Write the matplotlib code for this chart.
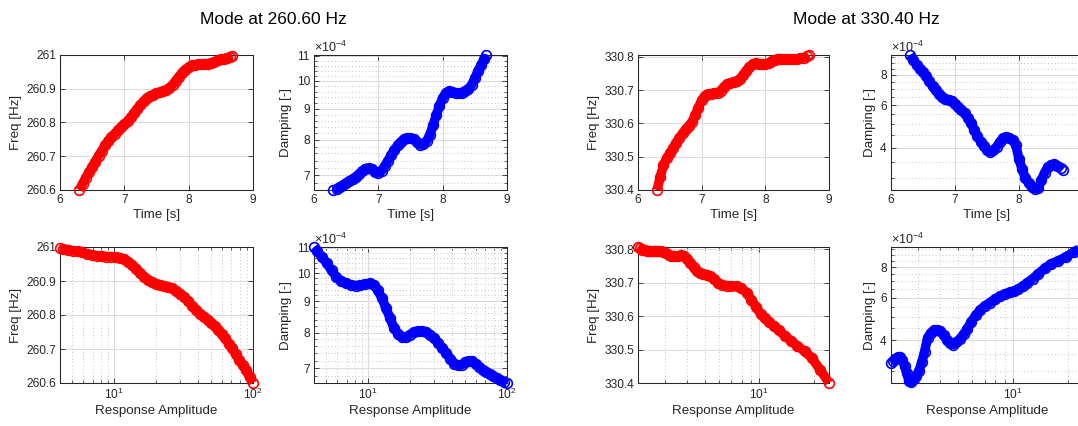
import numpy as np
import matplotlib
matplotlib.use('Agg')
import matplotlib.pyplot as plt
from matplotlib.ticker import (FixedLocator, FuncFormatter, NullFormatter,
                               LogLocator, LogFormatterMathtext)

plt.rcParams['font.family'] = ['Liberation Sans', 'DejaVu Sans']
plt.rcParams['mathtext.fontset'] = 'custom'
plt.rcParams['mathtext.rm'] = 'Liberation Sans'
plt.rcParams['mathtext.default'] = 'regular'

# ------------------------------------------------------------------ data
DAMP_SCALE = 1e-4

titles = ['Mode at 260.60 Hz', 'Mode at 330.40 Hz']

# mode 1 (260.60 Hz)
t1 = [6.30, 6.35, 6.40, 6.45, 6.50, 6.55, 6.60, 6.65, 6.70, 6.75, 6.80, 6.85,
      6.90, 6.95, 7.00, 7.05, 7.10, 7.15, 7.20, 7.25, 7.30, 7.35, 7.40, 7.45,
      7.50, 7.55, 7.60, 7.65, 7.70, 7.75, 7.80, 7.85, 7.90, 7.95, 8.00, 8.05,
      8.10, 8.15, 8.20, 8.25, 8.30, 8.35, 8.40, 8.45, 8.50, 8.55, 8.60, 8.65,
      8.68]
f1 = [260.600, 260.618, 260.637, 260.652, 260.668, 260.684, 260.702, 260.716,
      260.732, 260.745, 260.757, 260.767, 260.777, 260.786, 260.795, 260.804,
      260.815, 260.827, 260.840, 260.852, 260.863, 260.872, 260.878, 260.882,
      260.886, 260.889, 260.892, 260.896, 260.902, 260.912, 260.924, 260.936,
      260.948, 260.957, 260.964, 260.969, 260.971, 260.972, 260.972, 260.973,
      260.974, 260.977, 260.980, 260.984, 260.987, 260.989, 260.992, 260.994,
      260.996]
d1 = [6.62, 6.65, 6.70, 6.74, 6.79, 6.85, 6.90, 6.96, 7.02, 7.10, 7.18, 7.20,
      7.16, 7.09, 7.07, 7.12, 7.25, 7.40, 7.55, 7.70, 7.84, 7.94, 8.02, 8.05,
      8.05, 8.02, 7.94, 7.86, 7.87, 7.97, 8.15, 8.45, 8.78, 9.10, 9.38, 9.56,
      9.62, 9.60, 9.56, 9.54, 9.57, 9.63, 9.70, 9.85, 10.10, 10.38, 10.62,
      10.88, 11.02]
a1 = [100.0, 94.4, 89.1, 84.1, 79.4, 75.0, 70.8, 66.8, 63.1, 59.6, 56.2, 53.1,
      50.1, 47.3, 44.7, 41.8, 39.1, 36.6, 34.2, 32.0, 29.9, 28.0, 26.2, 24.5,
      22.9, 21.4, 20.0, 18.7, 17.5, 16.4, 15.3, 14.4, 13.4, 12.6, 11.7, 11.0,
      10.3, 9.5, 8.8, 8.13, 7.52, 6.95, 6.41, 5.92, 5.46, 5.04, 4.65, 4.29,
      4.08]

# mode 2 (330.40 Hz)
t2 = [6.30, 6.35, 6.40, 6.45, 6.50, 6.55, 6.60, 6.65, 6.70, 6.75, 6.80, 6.85,
      6.90, 6.95, 7.00, 7.05, 7.10, 7.15, 7.20, 7.25, 7.30, 7.35, 7.40, 7.45,
      7.50, 7.55, 7.60, 7.65, 7.70, 7.75, 7.80, 7.85, 7.90, 7.95, 8.00, 8.05,
      8.10, 8.15, 8.20, 8.25, 8.30, 8.35, 8.40, 8.45, 8.50, 8.55, 8.60, 8.65,
      8.68]
f2 = [330.400, 330.440, 330.475, 330.495, 330.511, 330.526, 330.541, 330.557,
      330.570, 330.582, 330.593, 330.605, 330.626, 330.648, 330.670, 330.683,
      330.689, 330.690, 330.691, 330.693, 330.699, 330.710, 330.719, 330.722,
      330.725, 330.728, 330.733, 330.745, 330.758, 330.770, 330.779, 330.781,
      330.779, 330.778, 330.778, 330.781, 330.788, 330.792, 330.795, 330.795,
      330.794, 330.793, 330.793, 330.794, 330.794, 330.796, 330.798, 330.802,
      330.806]
d2 = [9.70, 9.25, 8.80, 8.50, 8.25, 7.90, 7.52, 7.18, 6.90, 6.68, 6.48, 6.37,
      6.30, 6.22, 6.08, 5.92, 5.72, 5.55, 5.32, 5.06, 4.75, 4.46, 4.24, 4.06,
      3.92, 3.84, 3.90, 4.03, 4.22, 4.38, 4.42, 4.40, 4.30, 4.10, 3.58, 3.25,
      3.00, 2.86, 2.76, 2.70, 2.72, 2.93, 3.15, 3.32, 3.40, 3.41, 3.36, 3.28,
      3.23]
a2 = [24.3, 21.7, 19.5, 17.8, 16.2, 15.0, 13.8, 12.9, 12.0, 11.35, 10.7, 10.2,
      9.66, 9.06, 8.51, 7.98, 7.50, 7.03, 6.61, 6.24, 5.89, 5.62, 5.37, 5.13,
      4.90, 4.70, 4.52, 4.34, 4.17, 4.00, 3.85, 3.69, 3.55, 3.40, 3.27, 3.16,
      3.05, 2.95, 2.85, 2.77, 2.69, 2.61, 2.54, 2.47, 2.40, 2.33, 2.26, 2.19,
      2.14]

freq_lims = [(260.6, 261.0), (330.4, 330.806)]
freq_ticks = [[260.6, 260.7, 260.8, 260.9, 261.0],
              [330.4, 330.5, 330.6, 330.7, 330.8]]
damp_lims = [(6.62, 11.03), (2.67, 9.68)]
damp_major = [[7, 8, 9, 10, 11], [4, 6, 8]]
damp_minor = [[6.8, 7.2, 7.4, 7.6, 7.8, 8.2, 8.4, 8.6, 8.8, 9.2, 9.4, 9.6,
               9.8, 10.2, 10.4, 10.6, 10.8],
              [3.0, 3.5, 4.5, 5.0, 5.5, 6.5, 7.0, 7.5, 8.5, 9.0, 9.5]]
time_ticks = [6, 7, 8, 9]

# ------------------------------------------------------------------ style
W, H = 1078, 426
AX_COL = '#262626'
GRID_MAJ = '#dcdcdc'
GRID_MIN = '#c4c4c4'
TICK_FS = 8.6
LABEL_FS = 9.6

# pixel boxes (x0, x1, y_top, y_bottom) for each group, 2x2
boxes = [
    [(60, 253, 55, 190), (314, 507, 55, 190),
     (60, 253, 247, 383), (314, 507, 247, 383)],
    [(638, 829, 55, 190), (891, 1083, 55, 190),
     (638, 829, 247, 383), (891, 1083, 247, 383)],
]
title_x = [273, 866]


def add_axes(fig, box):
    x0, x1, y0, y1 = box
    return fig.add_axes([x0 / W, 1 - y1 / H, (x1 - x0) / W, (y1 - y0) / H])


def style(ax):
    ax.tick_params(which='both', direction='in', top=True, right=True,
                   colors=AX_COL, labelsize=TICK_FS, pad=3)
    ax.tick_params(which='major', length=3.5, width=0.6)
    ax.tick_params(which='minor', length=2, width=0.5)
    for s in ax.spines.values():
        s.set_color(AX_COL)
        s.set_linewidth(0.75)
    ax.grid(True, which='major', color=GRID_MAJ, lw=0.8)
    ax.set_axisbelow(True)


def draw(ax, x, y, color):
    ax.plot(x, y, '-', color=color, lw=6.8, solid_capstyle='butt',
            solid_joinstyle='round', clip_on=False, zorder=3)
    ax.plot(x, y, 'o', ms=7.0, mfc='none', mec=color, mew=1.2,
            clip_on=False, zorder=3)


def freq_axis(ax, m):
    ax.set_ylim(*freq_lims[m])
    ax.yaxis.set_major_locator(FixedLocator(freq_ticks[m]))
    ax.yaxis.set_major_formatter(FuncFormatter(lambda v, p: f'{v:g}'))
    ax.set_ylabel('Freq [Hz]', fontsize=LABEL_FS, color=AX_COL, labelpad=3)


def damp_axis(ax, m):
    ax.set_yscale('log')
    lo, hi = damp_lims[m]
    ax.set_ylim(lo * DAMP_SCALE, hi * DAMP_SCALE)
    ax.yaxis.set_major_locator(FixedLocator([v * DAMP_SCALE for v in damp_major[m]]))
    ax.yaxis.set_minor_locator(FixedLocator([v * DAMP_SCALE for v in damp_minor[m]]))
    ax.yaxis.set_major_formatter(FuncFormatter(lambda v, p: f'{v / DAMP_SCALE:g}'))
    ax.yaxis.set_minor_formatter(NullFormatter())
    ax.grid(True, which='minor', axis='y', color=GRID_MIN, lw=0.7, ls=(0, (1, 2.5)))
    ax.text(0.0, 1.0, '\u00d710$^{-4}$', transform=ax.transAxes, ha='left',
            va='bottom', fontsize=9, color=AX_COL)
    ax.set_ylabel('Damping [-]', fontsize=LABEL_FS, color=AX_COL, labelpad=3)


def time_axis(ax, clipped=False):
    ax.set_xlim(6, 9)
    ax.xaxis.set_major_locator(FixedLocator(time_ticks))
    if clipped:
        # last tick label falls outside the canvas, as in the reference
        ax.xaxis.set_major_formatter(
            FuncFormatter(lambda v, p: '' if v >= 9 else f'{v:g}'))
    ax.set_xlabel('Time [s]', fontsize=LABEL_FS, color=AX_COL, labelpad=2)


def amp_axis(ax, amp):
    ax.set_xscale('log')
    ax.set_xlim(min(amp), max(amp))
    ax.xaxis.set_major_locator(LogLocator(base=10))
    ax.xaxis.set_major_formatter(LogFormatterMathtext())
    ax.xaxis.set_minor_locator(LogLocator(base=10, subs=np.arange(2, 10)))
    ax.xaxis.set_minor_formatter(NullFormatter())
    ax.grid(True, which='minor', axis='x', color=GRID_MIN, lw=0.7, ls=(0, (1, 2.5)))
    ax.set_xlabel('Response Amplitude', fontsize=LABEL_FS, color=AX_COL, labelpad=2)


fig = plt.figure(figsize=(W / 100, H / 100), dpi=100)

modes = [(t1, f1, d1, a1), (t2, f2, d2, a2)]
for m, (t, f, d, a) in enumerate(modes):
    dd = [v * DAMP_SCALE for v in d]
    ax_ft, ax_dt, ax_fa, ax_da = [add_axes(fig, b) for b in boxes[m]]
    for ax in (ax_ft, ax_dt, ax_fa, ax_da):
        style(ax)

    draw(ax_ft, t, f, 'red')
    freq_axis(ax_ft, m)
    time_axis(ax_ft)

    draw(ax_dt, t, dd, 'blue')
    damp_axis(ax_dt, m)
    time_axis(ax_dt, clipped=(m == 1))

    draw(ax_fa, a, f, 'red')
    freq_axis(ax_fa, m)
    amp_axis(ax_fa, a)

    draw(ax_da, a, dd, 'blue')
    damp_axis(ax_da, m)
    amp_axis(ax_da, a)

    fig.text(title_x[m] / W, 1 - 20 / H, titles[m], ha='center', va='center',
             fontsize=12.5, color='black')

fig.savefig('out.png', dpi=100)
